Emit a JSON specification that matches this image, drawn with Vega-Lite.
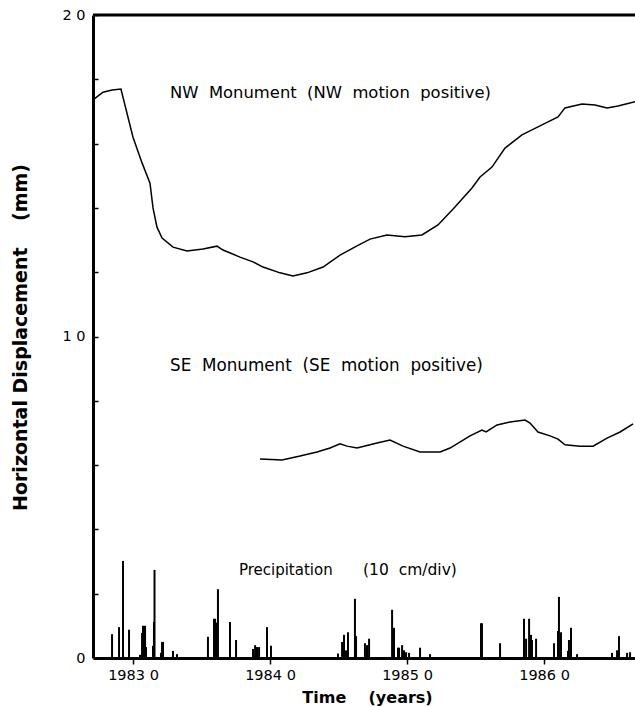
{
  "$schema": "https://vega.github.io/schema/vega-lite/v6.json",
  "width": 542,
  "height": 643,
  "autosize": {"type": "none"},
  "padding": {"left": 93, "top": 15, "right": 0, "bottom": 49},
  "background": "white",
  "config": {"view": {"stroke": null}, "font": "DejaVu Sans"},
  "datasets": {
    "nw": [
      {"year": 1982.708, "mm": 1.736}, {"year": 1982.781, "mm": 1.760}, {"year": 1982.847, "mm": 1.767},
      {"year": 1982.912, "mm": 1.770}, {"year": 1983.000, "mm": 1.620}, {"year": 1983.066, "mm": 1.540},
      {"year": 1983.124, "mm": 1.477}, {"year": 1983.146, "mm": 1.400}, {"year": 1983.175, "mm": 1.340},
      {"year": 1983.212, "mm": 1.306}, {"year": 1983.292, "mm": 1.278}, {"year": 1983.394, "mm": 1.266},
      {"year": 1983.511, "mm": 1.272}, {"year": 1983.613, "mm": 1.281}, {"year": 1983.657, "mm": 1.269},
      {"year": 1983.781, "mm": 1.247}, {"year": 1983.876, "mm": 1.232}, {"year": 1983.949, "mm": 1.216},
      {"year": 1984.073, "mm": 1.198}, {"year": 1984.168, "mm": 1.188}, {"year": 1984.270, "mm": 1.198},
      {"year": 1984.387, "mm": 1.216}, {"year": 1984.511, "mm": 1.253}, {"year": 1984.635, "mm": 1.282},
      {"year": 1984.730, "mm": 1.303}, {"year": 1984.854, "mm": 1.316}, {"year": 1984.985, "mm": 1.310},
      {"year": 1985.109, "mm": 1.316}, {"year": 1985.226, "mm": 1.347}, {"year": 1985.350, "mm": 1.403},
      {"year": 1985.474, "mm": 1.462}, {"year": 1985.533, "mm": 1.496}, {"year": 1985.620, "mm": 1.527},
      {"year": 1985.715, "mm": 1.586}, {"year": 1985.839, "mm": 1.627}, {"year": 1985.985, "mm": 1.658},
      {"year": 1986.102, "mm": 1.683}, {"year": 1986.153, "mm": 1.711}, {"year": 1986.277, "mm": 1.723},
      {"year": 1986.372, "mm": 1.720}, {"year": 1986.460, "mm": 1.711}, {"year": 1986.540, "mm": 1.717},
      {"year": 1986.664, "mm": 1.730}
    ],
    "se": [
      {"year": 1983.927, "mm": 0.619}, {"year": 1984.088, "mm": 0.616}, {"year": 1984.219, "mm": 0.628},
      {"year": 1984.343, "mm": 0.641}, {"year": 1984.438, "mm": 0.653}, {"year": 1984.511, "mm": 0.666},
      {"year": 1984.562, "mm": 0.659}, {"year": 1984.635, "mm": 0.653}, {"year": 1984.781, "mm": 0.669},
      {"year": 1984.876, "mm": 0.678}, {"year": 1984.971, "mm": 0.659}, {"year": 1985.095, "mm": 0.641},
      {"year": 1985.241, "mm": 0.641}, {"year": 1985.314, "mm": 0.653}, {"year": 1985.460, "mm": 0.691},
      {"year": 1985.547, "mm": 0.709}, {"year": 1985.577, "mm": 0.703}, {"year": 1985.657, "mm": 0.725},
      {"year": 1985.752, "mm": 0.734}, {"year": 1985.861, "mm": 0.740}, {"year": 1985.898, "mm": 0.731},
      {"year": 1985.956, "mm": 0.703}, {"year": 1986.044, "mm": 0.691}, {"year": 1986.102, "mm": 0.681},
      {"year": 1986.153, "mm": 0.663}, {"year": 1986.263, "mm": 0.659}, {"year": 1986.358, "mm": 0.659},
      {"year": 1986.460, "mm": 0.684}, {"year": 1986.555, "mm": 0.703}, {"year": 1986.650, "mm": 0.728}
    ],
    "precip": [
      {"year": 1982.847, "cm": 3.7}, {"year": 1982.898, "cm": 4.8}, {"year": 1982.927, "cm": 15.1},
      {"year": 1982.971, "cm": 4.4}, {"year": 1983.051, "cm": 0.5}, {"year": 1983.066, "cm": 3.9},
      {"year": 1983.073, "cm": 5.0}, {"year": 1983.080, "cm": 5.0}, {"year": 1983.088, "cm": 5.0},
      {"year": 1983.095, "cm": 1.7}, {"year": 1983.146, "cm": 1.9}, {"year": 1983.153, "cm": 5.6},
      {"year": 1983.157, "cm": 13.7}, {"year": 1983.204, "cm": 0.8}, {"year": 1983.212, "cm": 2.5},
      {"year": 1983.219, "cm": 2.5}, {"year": 1983.292, "cm": 1.1}, {"year": 1983.321, "cm": 0.6},
      {"year": 1983.547, "cm": 3.3}, {"year": 1983.591, "cm": 6.1}, {"year": 1983.599, "cm": 6.1},
      {"year": 1983.606, "cm": 5.5}, {"year": 1983.613, "cm": 4.8}, {"year": 1983.620, "cm": 10.7},
      {"year": 1983.708, "cm": 5.6}, {"year": 1983.752, "cm": 2.8}, {"year": 1983.876, "cm": 1.4},
      {"year": 1983.891, "cm": 2.0}, {"year": 1983.905, "cm": 1.7}, {"year": 1983.920, "cm": 1.7},
      {"year": 1983.978, "cm": 4.8}, {"year": 1984.007, "cm": 1.9}, {"year": 1984.496, "cm": 0.7},
      {"year": 1984.526, "cm": 2.5}, {"year": 1984.540, "cm": 3.6}, {"year": 1984.555, "cm": 1.2},
      {"year": 1984.569, "cm": 4.0}, {"year": 1984.620, "cm": 9.2}, {"year": 1984.628, "cm": 3.4},
      {"year": 1984.693, "cm": 2.3}, {"year": 1984.708, "cm": 2.0}, {"year": 1984.723, "cm": 3.0},
      {"year": 1984.891, "cm": 7.5}, {"year": 1984.905, "cm": 4.7}, {"year": 1984.934, "cm": 1.6},
      {"year": 1984.942, "cm": 1.6}, {"year": 1984.964, "cm": 2.0}, {"year": 1984.978, "cm": 1.2},
      {"year": 1984.993, "cm": 0.9}, {"year": 1985.015, "cm": 0.8}, {"year": 1985.095, "cm": 1.6},
      {"year": 1985.168, "cm": 0.6}, {"year": 1985.540, "cm": 5.4}, {"year": 1985.547, "cm": 5.4},
      {"year": 1985.679, "cm": 2.3}, {"year": 1985.854, "cm": 6.1}, {"year": 1985.869, "cm": 3.0},
      {"year": 1985.891, "cm": 6.1}, {"year": 1985.905, "cm": 3.6}, {"year": 1985.912, "cm": 2.8},
      {"year": 1985.942, "cm": 3.0}, {"year": 1986.073, "cm": 2.3}, {"year": 1986.102, "cm": 4.2},
      {"year": 1986.109, "cm": 9.5}, {"year": 1986.124, "cm": 4.0}, {"year": 1986.175, "cm": 1.1},
      {"year": 1986.182, "cm": 2.8}, {"year": 1986.197, "cm": 4.7}, {"year": 1986.241, "cm": 0.6},
      {"year": 1986.496, "cm": 0.8}, {"year": 1986.533, "cm": 1.2}, {"year": 1986.547, "cm": 3.4},
      {"year": 1986.606, "cm": 0.8}, {"year": 1986.628, "cm": 0.9}
    ],
    "labels": [{"label": "NW\u00a0\u00a0Monument\u00a0\u00a0(NW\u00a0\u00a0motion\u00a0\u00a0positive)"}],
    "labels2": [{"label": "SE\u00a0\u00a0Monument\u00a0\u00a0(SE\u00a0\u00a0motion\u00a0\u00a0positive)"}],
    "labels3": [{"label": "Precipitation"}],
    "labels4": [{"label": "(10\u00a0\u00a0cm/div)"}],
    "one": [{}]
  },
  "layer": [
    {
      "layer": [
        {
          "data": {"name": "nw"},
          "mark": {"type": "line", "color": "black", "strokeWidth": 1.5},
          "encoding": {
            "x": {
              "field": "year", "type": "quantitative",
              "scale": {"domain": [1982.708, 1986.664], "nice": false, "zero": false},
              "axis": {
                "values": [1983, 1984, 1985, 1986],
                "labelExpr": "datum.value + ' 0'",
                "grid": false,
                "tickSize": 6, "tickWidth": 1.5, "tickColor": "black",
                "domainColor": "black", "domainWidth": 3,
                "labelFontSize": 14.5, "labelColor": "black", "labelPadding": 4, "labelFlush": false,
                "title": "Time\u00a0\u00a0\u00a0\u00a0(years)",
                "titleFontSize": 16, "titleFontWeight": "bold", "titleColor": "black",
                "titleX": 274, "titleY": 39, "titleBaseline": "middle", "titleAlign": "center"
              }
            },
            "y": {
              "field": "mm", "type": "quantitative",
              "scale": {"domain": [0, 2], "nice": false},
              "axis": {
                "values": [0, 0.2, 0.4, 0.6, 0.8, 1, 1.2, 1.4, 1.6, 1.8, 2],
                "labelExpr": "datum.value == 2 ? '2 0' : datum.value == 1 ? '1 0' : datum.value == 0 ? '0' : ''",
                "grid": false,
                "tickSize": -5, "tickWidth": 1.5, "tickColor": "black",
                "domainColor": "black", "domainWidth": 3,
                "labelFontSize": 14.5, "labelColor": "black", "labelPadding": 13, "labelFlush": false, "labelOverlap": false,
                "title": "Horizontal\u00a0Displacement\u00a0\u00a0\u00a0\u00a0(mm)",
                "titleFontSize": 19, "titleFontWeight": "bold", "titleColor": "black",
                "titleX": -73, "titleY": 322, "titleAngle": 270, "titleAlign": "center", "titleBaseline": "middle"
              }
            }
          }
        },
        {
          "data": {"name": "se"},
          "mark": {"type": "line", "color": "black", "strokeWidth": 1.5},
          "encoding": {
            "x": {"field": "year", "type": "quantitative"},
            "y": {"field": "mm", "type": "quantitative"}
          }
        },
        {
          "data": {"name": "labels"},
          "mark": {"type": "text", "align": "left", "baseline": "middle", "fontSize": 16.4, "color": "black"},
          "encoding": {
            "x": {"datum": 1983.27},
            "y": {"datum": 1.758},
            "text": {"field": "label"}
          }
        },
        {
          "data": {"name": "labels2"},
          "mark": {"type": "text", "align": "left", "baseline": "middle", "fontSize": 16.8, "color": "black"},
          "encoding": {
            "x": {"datum": 1983.27},
            "y": {"datum": 0.908},
            "text": {"field": "label"}
          }
        },
        {
          "data": {"name": "labels3"},
          "mark": {"type": "text", "align": "left", "baseline": "middle", "fontSize": 15, "color": "black"},
          "encoding": {
            "x": {"datum": 1983.773},
            "y": {"datum": 0.274},
            "text": {"field": "label"}
          }
        },
        {
          "data": {"name": "labels4"},
          "mark": {"type": "text", "align": "left", "baseline": "middle", "fontSize": 15.5, "color": "black"},
          "encoding": {
            "x": {"datum": 1984.679},
            "y": {"datum": 0.274},
            "text": {"field": "label"}
          }
        },
        {
          "data": {"name": "one"},
          "mark": {"type": "rule", "color": "black", "strokeWidth": 3},
          "encoding": {
            "x": {"datum": 1982.708},
            "x2": {"datum": 1986.664},
            "y": {"datum": 2}
          }
        }
      ]
    },
    {
      "data": {"name": "precip"},
      "mark": {"type": "rule", "color": "black", "strokeWidth": 2},
      "encoding": {
        "x": {"field": "year", "type": "quantitative"},
        "y": {"field": "cm", "type": "quantitative", "scale": {"domain": [0, 100], "nice": false}, "axis": null},
        "y2": {"datum": 0}
      }
    }
  ],
  "resolve": {"scale": {"y": "independent"}}
}
